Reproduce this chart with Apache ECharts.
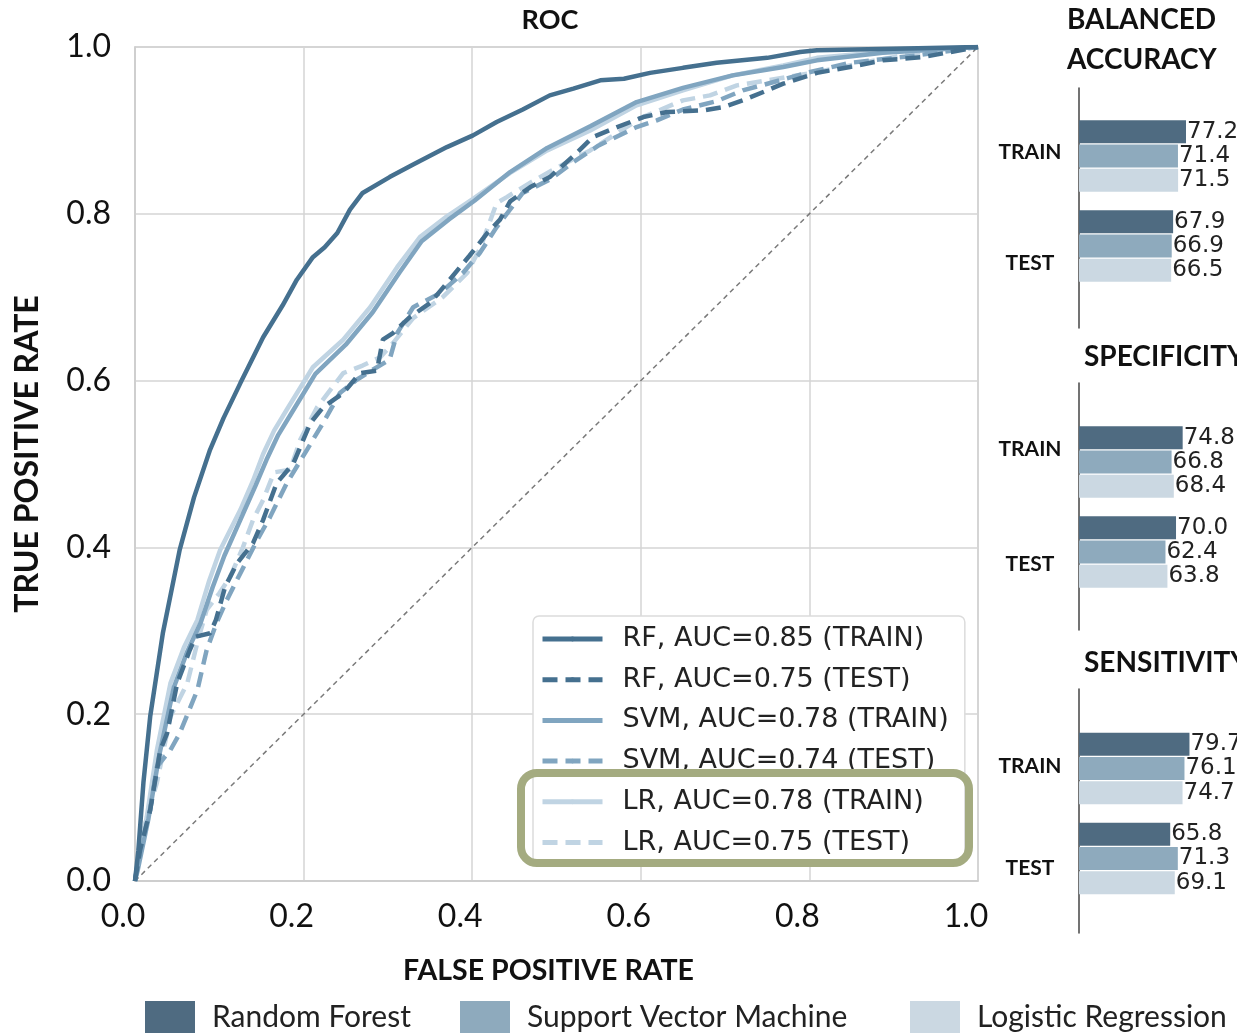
<!DOCTYPE html>
<html><head><meta charset="utf-8">
<script src="https://cdn.jsdelivr.net/npm/echarts@6/dist/echarts.min.js"></script>
<style>html,body{margin:0;padding:0;background:#fff}#c{width:1237px;height:1034px}</style>
</head><body><div id="c"></div>
<script>
// ---------- data ----------
const tickLabels = ['0.0','0.2','0.4','0.6','0.8','1.0'];
const rfTrain = [[0,0],[0.004,0.037],[0.01,0.118],[0.018,0.197],[0.033,0.297],[0.053,0.397],[0.07,0.46],[0.089,0.517],[0.105,0.555],[0.125,0.597],[0.152,0.652],[0.175,0.69],[0.192,0.721],[0.211,0.748],[0.225,0.76],[0.24,0.777],[0.255,0.805],[0.27,0.825],[0.302,0.844],[0.33,0.859],[0.37,0.88],[0.401,0.894],[0.429,0.91],[0.46,0.925],[0.492,0.942],[0.52,0.95],[0.552,0.96],[0.58,0.962],[0.611,0.969],[0.65,0.975],[0.69,0.981],[0.75,0.987],[0.789,0.994],[0.809,0.996],[0.9,0.998],[1,1]];
const rfTest = [[0,0],[0.006,0.037],[0.018,0.085],[0.03,0.157],[0.038,0.177],[0.05,0.237],[0.065,0.277],[0.072,0.293],[0.089,0.297],[0.096,0.313],[0.107,0.353],[0.121,0.381],[0.14,0.405],[0.152,0.433],[0.168,0.477],[0.188,0.501],[0.208,0.549],[0.223,0.568],[0.247,0.585],[0.267,0.609],[0.287,0.612],[0.294,0.649],[0.306,0.657],[0.326,0.676],[0.35,0.693],[0.37,0.717],[0.397,0.75],[0.418,0.777],[0.433,0.793],[0.445,0.815],[0.469,0.832],[0.492,0.844],[0.524,0.873],[0.543,0.892],[0.572,0.904],[0.603,0.916],[0.631,0.922],[0.674,0.924],[0.698,0.928],[0.721,0.936],[0.75,0.948],[0.769,0.956],[0.809,0.969],[0.848,0.976],[0.887,0.984],[0.935,0.988],[1,1]];
const svmTrain = [[0,0],[0.003,0.012],[0.016,0.075],[0.029,0.152],[0.046,0.232],[0.062,0.275],[0.078,0.31],[0.092,0.352],[0.106,0.39],[0.128,0.44],[0.143,0.474],[0.156,0.505],[0.17,0.535],[0.185,0.56],[0.214,0.608],[0.25,0.643],[0.282,0.682],[0.314,0.73],[0.34,0.767],[0.372,0.793],[0.403,0.816],[0.445,0.85],[0.489,0.879],[0.54,0.905],[0.595,0.934],[0.65,0.951],[0.709,0.966],[0.769,0.976],[0.809,0.984],[0.887,0.993],[1,1]];
const svmTest = [[0,0],[0.006,0.037],[0.018,0.085],[0.026,0.137],[0.042,0.157],[0.053,0.177],[0.074,0.229],[0.085,0.277],[0.097,0.31],[0.109,0.337],[0.125,0.369],[0.145,0.409],[0.16,0.436],[0.18,0.477],[0.204,0.517],[0.211,0.529],[0.223,0.549],[0.243,0.585],[0.263,0.601],[0.282,0.613],[0.302,0.625],[0.311,0.657],[0.33,0.688],[0.362,0.705],[0.389,0.729],[0.409,0.753],[0.429,0.784],[0.46,0.825],[0.492,0.841],[0.52,0.862],[0.55,0.882],[0.595,0.904],[0.619,0.912],[0.65,0.925],[0.69,0.935],[0.721,0.948],[0.765,0.96],[0.801,0.97],[0.848,0.981],[0.928,0.99],[1,1]];
const lrTrain = [[0,0],[0.002,0.013],[0.014,0.077],[0.026,0.157],[0.042,0.237],[0.058,0.28],[0.074,0.313],[0.088,0.36],[0.101,0.397],[0.125,0.445],[0.14,0.48],[0.152,0.512],[0.165,0.54],[0.18,0.565],[0.211,0.616],[0.247,0.649],[0.279,0.688],[0.311,0.736],[0.338,0.772],[0.37,0.797],[0.401,0.818],[0.445,0.849],[0.489,0.876],[0.54,0.9],[0.595,0.93],[0.65,0.948],[0.709,0.966],[0.769,0.978],[0.809,0.987],[0.887,0.994],[1,1]];
const lrTest = [[0,0],[0.005,0.04],[0.015,0.08],[0.026,0.118],[0.042,0.197],[0.062,0.237],[0.075,0.29],[0.085,0.325],[0.1,0.345],[0.113,0.365],[0.128,0.4],[0.14,0.433],[0.152,0.457],[0.165,0.49],[0.184,0.493],[0.196,0.529],[0.216,0.568],[0.247,0.609],[0.27,0.618],[0.291,0.628],[0.306,0.645],[0.33,0.675],[0.365,0.7],[0.394,0.729],[0.41,0.76],[0.429,0.813],[0.441,0.82],[0.47,0.838],[0.5,0.855],[0.54,0.876],[0.6,0.915],[0.65,0.936],[0.682,0.942],[0.714,0.954],[0.75,0.96],[0.809,0.97],[0.868,0.982],[0.928,0.993],[1,1]];
const chance = [[0,0],[1,1]];
const rocNames = ['RF, AUC=0.85 (TRAIN)','RF, AUC=0.75 (TEST)','SVM, AUC=0.78 (TRAIN)','SVM, AUC=0.74 (TEST)','LR, AUC=0.78 (TRAIN)','LR, AUC=0.75 (TEST)'];

const categories = ['TRAIN','TEST'];
const modelNames = ['Random Forest','Support Vector Machine','Logistic Regression'];
const panelTitles = ['SPECIFICITY','SENSITIVITY'];
const balRF = [77.2, 67.9], balSVM = [71.4, 66.9], balLR = [71.5, 66.5];
const specRF = [74.8, 70.0], specSVM = [66.8, 62.4], specLR = [68.4, 63.8];
const sensRF = [79.7, 65.8], sensSVM = [76.1, 71.3], sensLR = [74.7, 69.1];

// ---------- styles ----------
const lineCol = ['#45708f','#80a5c0','#c0d4e3'];
const barCol = ['#4f6b81','#8eaabd','#cbd8e2'];
const boldFont = 'Lato';
const chart = echarts.init(document.getElementById('c'), null, {renderer:'canvas'});

const rocData = [rfTrain, rfTest, svmTrain, svmTest, lrTrain, lrTest];
const rocSeries = rocData.map((d,i)=>({
  type:'line', name: rocNames[i], xAxisIndex:0, yAxisIndex:0, data:d, symbol:'none', smooth:false,
  lineStyle:{color:lineCol[Math.floor(i/2)], width:4.5, type: i%2 ? [15,8] : 'solid'},
  itemStyle:{color:lineCol[Math.floor(i/2)]}, z: 10 - i, silent:true
}));
rocSeries.push({type:'line', name:'chance', data:chance, xAxisIndex:0, yAxisIndex:0, symbol:'none',
  lineStyle:{color:'#7a7a7a', width:1.5, type:[5,4]}, z:2, silent:true});

const panels = [[balRF,balSVM,balLR],[specRF,specSVM,specLR],[sensRF,sensSVM,sensLR]];
const barTops = [111, 417, 723.5];
const labelShift = [[-4,17.5],[-13,12.5],[-2.5,9.5]];
const lineTops = [[88,240],[383,247],[689,244]];

const grids = [{left:135, top:47, width:843, height:834, show:true, borderColor:'#cccccc', borderWidth:1.5, outerBoundsMode:'none', containLabel:false}];
const xAxes = [{type:'value', gridIndex:0, min:0, max:1, interval:0.2,
  axisLine:{show:true, lineStyle:{color:'#cccccc', width:1.5}}, axisTick:{show:false},
  splitLine:{show:true, lineStyle:{color:'#d4d4d4', width:1.5}},
  axisLabel:{fontSize:32, color:'#111', margin:20, fontFamily:'Lato', padding:[0,24,0,0],
    formatter:(v)=>tickLabels[Math.round(v*5)], showMinLabel:true, showMaxLabel:true},
  name:'FALSE POSITIVE RATE', nameLocation:'middle', nameGap:75, nameMoveOverlap:false,
  nameTextStyle:{fontFamily:boldFont, fontWeight:'bold', fontSize:28.5, color:'#111', padding:[0,16,0,0]}}];
const yAxes = [{type:'value', gridIndex:0, min:0, max:1, interval:0.2,
  axisLine:{show:true, lineStyle:{color:'#cccccc', width:1.5}}, axisTick:{show:false},
  splitLine:{show:true, lineStyle:{color:'#d4d4d4', width:1.5}},
  axisLabel:{fontSize:32, color:'#111', margin:24, fontFamily:'Lato',
    formatter:(v)=>tickLabels[Math.round(v*5)], showMinLabel:true, showMaxLabel:true},
  name:'TRUE POSITIVE RATE', nameLocation:'middle', nameGap:91, nameRotate:90, nameMoveOverlap:false,
  nameTextStyle:{fontFamily:boldFont, fontWeight:'bold', fontSize:32, color:'#111', padding:[0,0,0,20]}}];
const barSeries = [];
panels.forEach((p,k)=>{
  grids.push({left:1079, top:barTops[k], width:138.6, height:180, outerBoundsMode:'none', containLabel:false});
  const gi = grids.length-1;
  xAxes.push({type:'value', gridIndex:gi, min:0, max:100, show:false});
  const sh = labelShift[k];
  const rich = {};
  sh.forEach((s,i)=>{
    rich['r'+i] = {fontFamily:boldFont, fontWeight:'bold', fontSize:21, color:'#111', align:'center',
      padding: s >= 0 ? [2*s,0,0,0] : [0,0,-2*s,0]};
  });
  yAxes.push({type:'category', gridIndex:gi, data:categories, inverse:true,
    axisLine:{show:false}, axisTick:{show:false}, splitLine:{show:false},
    axisLabel:{fontFamily:boldFont, fontWeight:'bold', fontSize:21, color:'#111', align:'center', margin:49,
      formatter:(v,idx)=>'{r'+idx+'|'+v+'}', rich}});
  const ai = xAxes.length-1;
  p.forEach((vals,j)=>{
    barSeries.push({type:'bar', name:modelNames[j], xAxisIndex:ai, yAxisIndex:ai, data:vals,
      barWidth:23, barGap:'5%', itemStyle:{color:barCol[j]}, silent:true,
      label:{show:true, position:'right', distance:1, fontFamily:'DejaVu Sans', fontSize:23, color:'#222',
        formatter:(o)=>o.value.toFixed(1)}});
  });
});
lineTops.forEach(([t,h])=>{
  grids.push({left:1079, top:t, width:138.6, height:h, outerBoundsMode:'none', containLabel:false});
  const gi = grids.length-1;
  xAxes.push({type:'value', gridIndex:gi, min:0, max:1, show:false});
  yAxes.push({type:'value', gridIndex:gi, min:0, max:1, axisLine:{show:true, lineStyle:{color:'#444', width:1.5}},
    axisTick:{show:false}, axisLabel:{show:false}, splitLine:{show:false}});
});

const bottomLeft = [145, 460, 910];
const legends = [{
  data: rocNames, orient:'vertical', left:533, top:616, itemWidth:60, itemHeight:6, itemGap:10.7,
  padding:[8,16,6,7], backgroundColor:'#fff', borderColor:'#dcdcdc', borderWidth:1.5, borderRadius:6,
  lineStyle:{width:5}, selectedMode:false,
  textStyle:{fontFamily:'DejaVu Sans', fontSize:27, color:'#222', lineHeight:30, padding:[0,0,0,15]}
}];
modelNames.forEach((n,i)=>{
  legends.push({data:[n], left:bottomLeft[i], top:1001, itemWidth:50, itemHeight:32, icon:'rect', padding:0,
    selectedMode:false, textStyle:{fontFamily:'Lato', fontSize:30, color:'#222', padding:[0,0,0,12]}});
});

const txt = (s, x, y, size, align) => ({type:'text', x, y, z:100, silent:true,
  style:{text:s, font:'bold '+size+'px '+boldFont, fill:'#111', textAlign:align||'left', textVerticalAlign:'middle'}});

chart.setOption({
  animation:false,
  textStyle:{fontFamily:'DejaVu Sans'},
  grid: grids, xAxis: xAxes, yAxis: yAxes, legend: legends,
  series: rocSeries.concat(barSeries),
  graphic: [
    txt('ROC', 550, 20, 27, 'center'),
    txt('BALANCED', 1067, 20, 28),
    txt('ACCURACY', 1067, 60, 28),
    txt(panelTitles[0], 1084, 357, 28),
    txt(panelTitles[1], 1084, 663, 28),
    {type:'rect', z:100, silent:true, shape:{x:521, y:773, width:448, height:90, r:16},
      style:{fill:'none', stroke:'#a4ab80', lineWidth:8}}
  ]
});
</script></body></html>
